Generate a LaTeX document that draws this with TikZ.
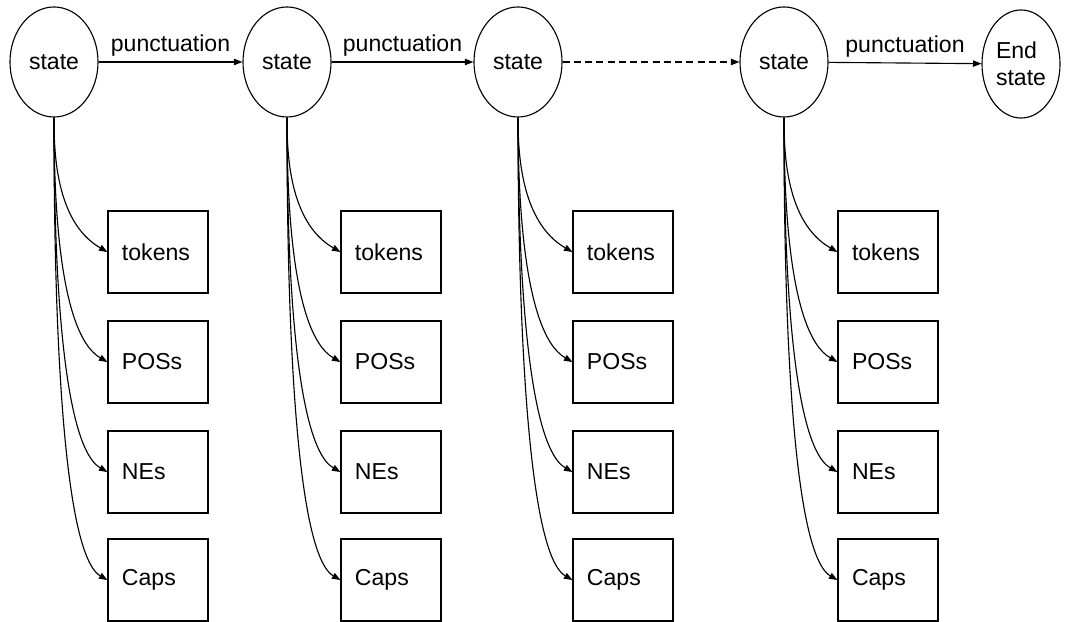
\documentclass[tikz,border=0pt]{standalone}
\usepackage{fontspec}
\setmainfont{Liberation Sans}
\usetikzlibrary{arrows.meta, shapes.geometric}

\begin{document}
\begin{tikzpicture}
        [x=0.025cm, y=-0.025cm, every node/.style={font=\fontsize{16.4}{19}\selectfont},
        statenode/.style={draw, ellipse, inner sep=0, minimum width=2.2cm, minimum height=2.75cm},
        featbox/.style={draw, rectangle, minimum width=2.5cm, minimum height=2.05cm, text width=1.8cm, align=left, inner xsep=0.35cm},
        every path/.style={line width=0.8pt, black},
        link/.style={-{Triangle[length=6pt,width=4.5pt]}},
        branch/.style={-{Triangle[length=6pt,width=4.5pt]}, out=-90, in=150, out looseness=0.6, in distance=1.5cm}]

        \useasboundingbox (0, 0) rectangle (1071, 622);

        \node[statenode] (s1) at (54, 62) {state};
        \node[statenode] (s2) at (287, 62) {state};
        \node[statenode] (s3) at (518, 62) {state};
        \node[statenode] (s4) at (784, 62) {state};
        \node[statenode, minimum width=1.95cm, minimum height=2.7cm, align=left] (s5) at (1021, 64) {End\\state};

        \draw[link] (s1) -- node[above] {punctuation} (s2);
        \draw[link] (s2) -- node[above] {punctuation} (s3);
        \draw[link, dash pattern=on 5pt off 3pt] (s3) -- (s4);
        \draw[link] (s4) -- node[above] {punctuation} (s5);

        \node[featbox] (t1) at (158, 252) {tokens};
        \node[featbox] (p1) at (158, 362) {POSs};
        \node[featbox] (n1) at (158, 472) {NEs};
        \node[featbox] (c1) at (158, 580) {Caps};

        \node[featbox] (t2) at (391, 252) {tokens};
        \node[featbox] (p2) at (391, 362) {POSs};
        \node[featbox] (n2) at (391, 472) {NEs};
        \node[featbox] (c2) at (391, 580) {Caps};

        \node[featbox] (t3) at (623, 252) {tokens};
        \node[featbox] (p3) at (623, 362) {POSs};
        \node[featbox] (n3) at (623, 472) {NEs};
        \node[featbox] (c3) at (623, 580) {Caps};

        \node[featbox] (t4) at (888, 252) {tokens};
        \node[featbox] (p4) at (888, 362) {POSs};
        \node[featbox] (n4) at (888, 472) {NEs};
        \node[featbox] (c4) at (888, 580) {Caps};

        \draw[branch] (s1.south) to (t1.west);
        \draw[branch] (s1.south) to (p1.west);
        \draw[branch] (s1.south) to (n1.west);
        \draw[branch] (s1.south) to (c1.west);

        \draw[branch] (s2.south) to (t2.west);
        \draw[branch] (s2.south) to (p2.west);
        \draw[branch] (s2.south) to (n2.west);
        \draw[branch] (s2.south) to (c2.west);

        \draw[branch] (s3.south) to (t3.west);
        \draw[branch] (s3.south) to (p3.west);
        \draw[branch] (s3.south) to (n3.west);
        \draw[branch] (s3.south) to (c3.west);

        \draw[branch] (s4.south) to (t4.west);
        \draw[branch] (s4.south) to (p4.west);
        \draw[branch] (s4.south) to (n4.west);
        \draw[branch] (s4.south) to (c4.west);
      \end{tikzpicture}
\end{document}
